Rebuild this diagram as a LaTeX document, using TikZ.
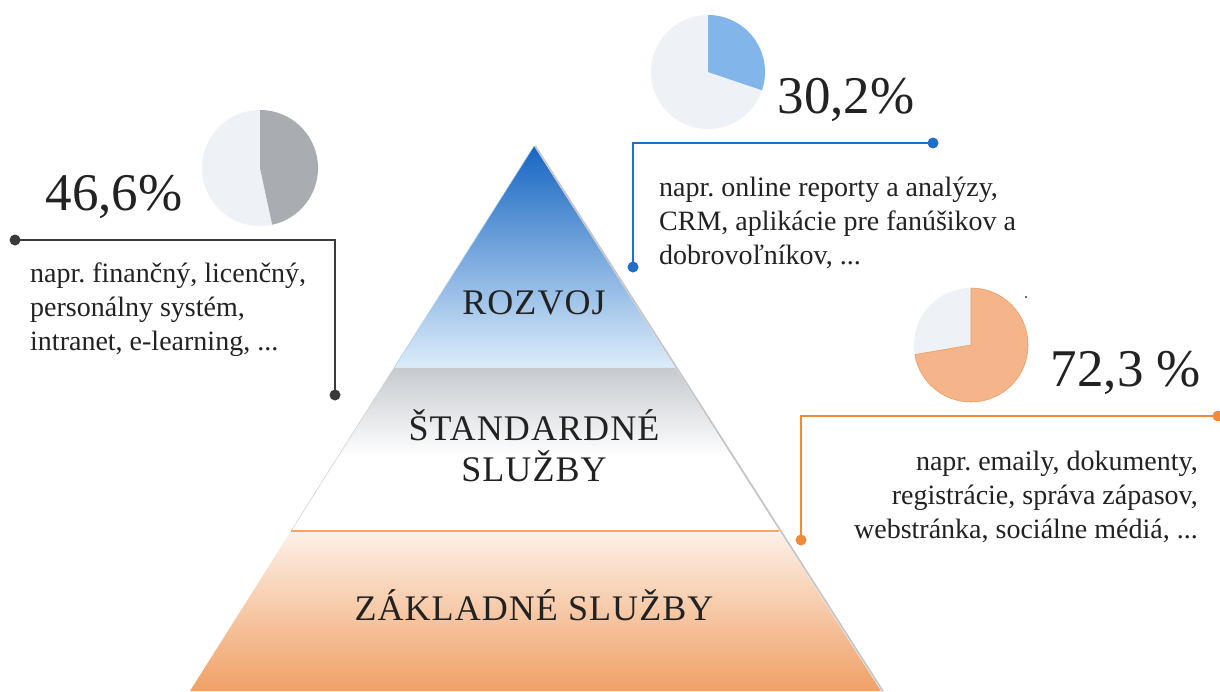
\documentclass[tikz,border=0pt]{standalone}
\usepackage{fontspec}
\setmainfont{Liberation Serif}
\usetikzlibrary{calc}
\frenchspacing
\definecolor{inkc}{HTML}{222222}
\definecolor{leadk}{HTML}{3A3A3A}
\definecolor{leadb}{HTML}{1F6FC8}
\definecolor{leado}{HTML}{F08A3C}
\definecolor{pielight}{HTML}{EEF1F5}
\definecolor{piegray}{HTML}{A9ACB0}
\definecolor{pieblue}{HTML}{82B6EA}
\definecolor{pieorange}{HTML}{F5B48A}
\definecolor{pyrbD}{HTML}{1766C2}
\definecolor{pyrbM}{HTML}{7DB0E2}
\definecolor{pyrbL}{HTML}{DDEDFA}
\definecolor{pyrgray}{HTML}{C6CACF}
\definecolor{pyrgrayM}{HTML}{E4E6E9}
\definecolor{pyroT}{HTML}{FDF1E8}
\definecolor{pyroM}{HTML}{F8CFB2}
\definecolor{pyroB}{HTML}{F0A066}
\begin{document}
\begin{tikzpicture}[x=1pt,y=1pt,
  bodytext/.style={inner sep=0pt, text=inkc, font=\fontsize{28}{34}\selectfont\frenchspacing},
  pcttext/.style={inner sep=0pt, text=inkc, font=\fontsize{53}{56}\selectfont},
  tiertext/.style={inner sep=0pt, text=inkc, font=\fontsize{36}{41}\selectfont\addfontfeature{LetterSpace=3}, align=center},
  leadline/.style={line width=1.3pt},
  leaddot/.style={circle, inner sep=0pt, minimum size=11pt},
]
\useasboundingbox (0,0) rectangle (1220,-691);
\fill[white] (0,0) rectangle (1220,-691);

% ---------- pyramid ----------
\coordinate (apex) at (534,-146);
\coordinate (bl) at (190,-691);
\coordinate (br) at (881,-691);
\coordinate (t1l) at ($(apex)!0.4073!(bl)$);
\coordinate (t1r) at ($(apex)!0.4073!(br)$);
\coordinate (t2l) at ($(apex)!0.7064!(bl)$);
\coordinate (t2r) at ($(apex)!0.7064!(br)$);
\coordinate (tml) at ($(apex)!0.57!(bl)$);
\coordinate (tmr) at ($(apex)!0.57!(br)$);

\shade[top color=pyrbD, middle color=pyrbM, bottom color=pyrbL] (apex) -- (t1r) -- (t1l) -- cycle;
\fill[white] (t1l) -- (t1r) -- (t2r) -- (t2l) -- cycle;
\shade[top color=pyrgray, middle color=pyrgrayM, bottom color=white] (t1l) -- (t1r) -- (tmr) -- (tml) -- cycle;
\shade[top color=pyroT, middle color=pyroM, bottom color=pyroB] (t2l) -- (t2r) -- (br) -- (bl) -- cycle;
\draw[gray!35, line width=0.6pt] (t1l) -- (t2l);
\draw[leado!75, line width=1.2pt] (t2l) -- (t2r);
\draw[gray!45, line width=1.8pt] ($(apex)+(1.2,0)$) -- ($(br)+(1.8,0)$);
\draw[pyrbM!60, line width=0.6pt] (apex) -- (t1l);

\node[tiertext, anchor=base] (rozvoj) at (534,-314) {ROZVOJ};
\node[tiertext] (stand) at (534,-446) {ŠTANDARDNÉ\\SLUŽBY};
\node[tiertext, anchor=base] (zakl) at (534,-620) {ZÁKLADNÉ SLUŽBY};

% ---------- left pie ----------
\fill[pielight] (260,-168) circle (58);
\fill[piegray] (260,-168) -- ++(90:58) arc (90:-77.8:58) -- cycle;
\node[pcttext, anchor=base] (p1) at (114,-210) {46,6\%};

\coordinate (lk1) at (15,-240);
\coordinate (lk2) at (335,-240);
\coordinate (lk3) at (335,-395);
\draw[leadk, leadline] (lk1) -- (lk2) -- (lk3);
\node[leaddot, fill=leadk] (lkd1) at (lk1) {};
\node[leaddot, fill=leadk] (lkd2) at (lk3) {};
\node[bodytext, anchor=north west, align=left] (t1) at (30,-263)
  {napr. finančný, licenčný,\\personálny systém,\\intranet, e-learning, ...};

% ---------- top right pie ----------
\fill[pielight] (708,-72) circle (57);
\fill[pieblue] (708,-72) -- ++(90:57) arc (90:-18.7:57) -- cycle;
\node[pcttext, anchor=base] (p2) at (846,-113) {30,2\%};

\coordinate (lb1) at (933,-143);
\coordinate (lb2) at (633,-143);
\coordinate (lb3) at (633,-267);
\draw[leadb, leadline] (lb1) -- (lb2) -- (lb3);
\node[leaddot, fill=leadb] (lbd1) at (lb1) {};
\node[leaddot, fill=leadb] (lbd2) at (lb3) {};
\node[bodytext, anchor=north west, align=left] (t2) at (659,-177)
  {napr. online reporty a analýzy,\\CRM, aplikácie pre fanúšikov a\\dobrovoľníkov, ...};

% ---------- right pie ----------
\fill[pielight] (971,-345) circle (57);
\filldraw[fill=pieorange, draw=leado!85, line width=0.6pt] (971,-345) -- ++(90:57) arc (90:-170.3:57) -- cycle;
\fill[leadk] (1026,-297) circle (1.2);
\node[pcttext, anchor=base] (p3) at (1126,-386) {72,3 \%};

\coordinate (lo1) at (1218,-416);
\coordinate (lo2) at (801,-416);
\coordinate (lo3) at (801,-540);
\draw[leado, leadline] (lo1) -- (lo2) -- (lo3);
\node[leaddot, fill=leado] (lod1) at (lo1) {};
\node[leaddot, fill=leado] (lod2) at (lo3) {};
\node[bodytext, anchor=north east, align=right] (t3) at (1198,-451)
  {napr. emaily, dokumenty,\\registrácie, správa zápasov,\\webstránka, sociálne médiá, ...};
\end{tikzpicture}
\end{document}
